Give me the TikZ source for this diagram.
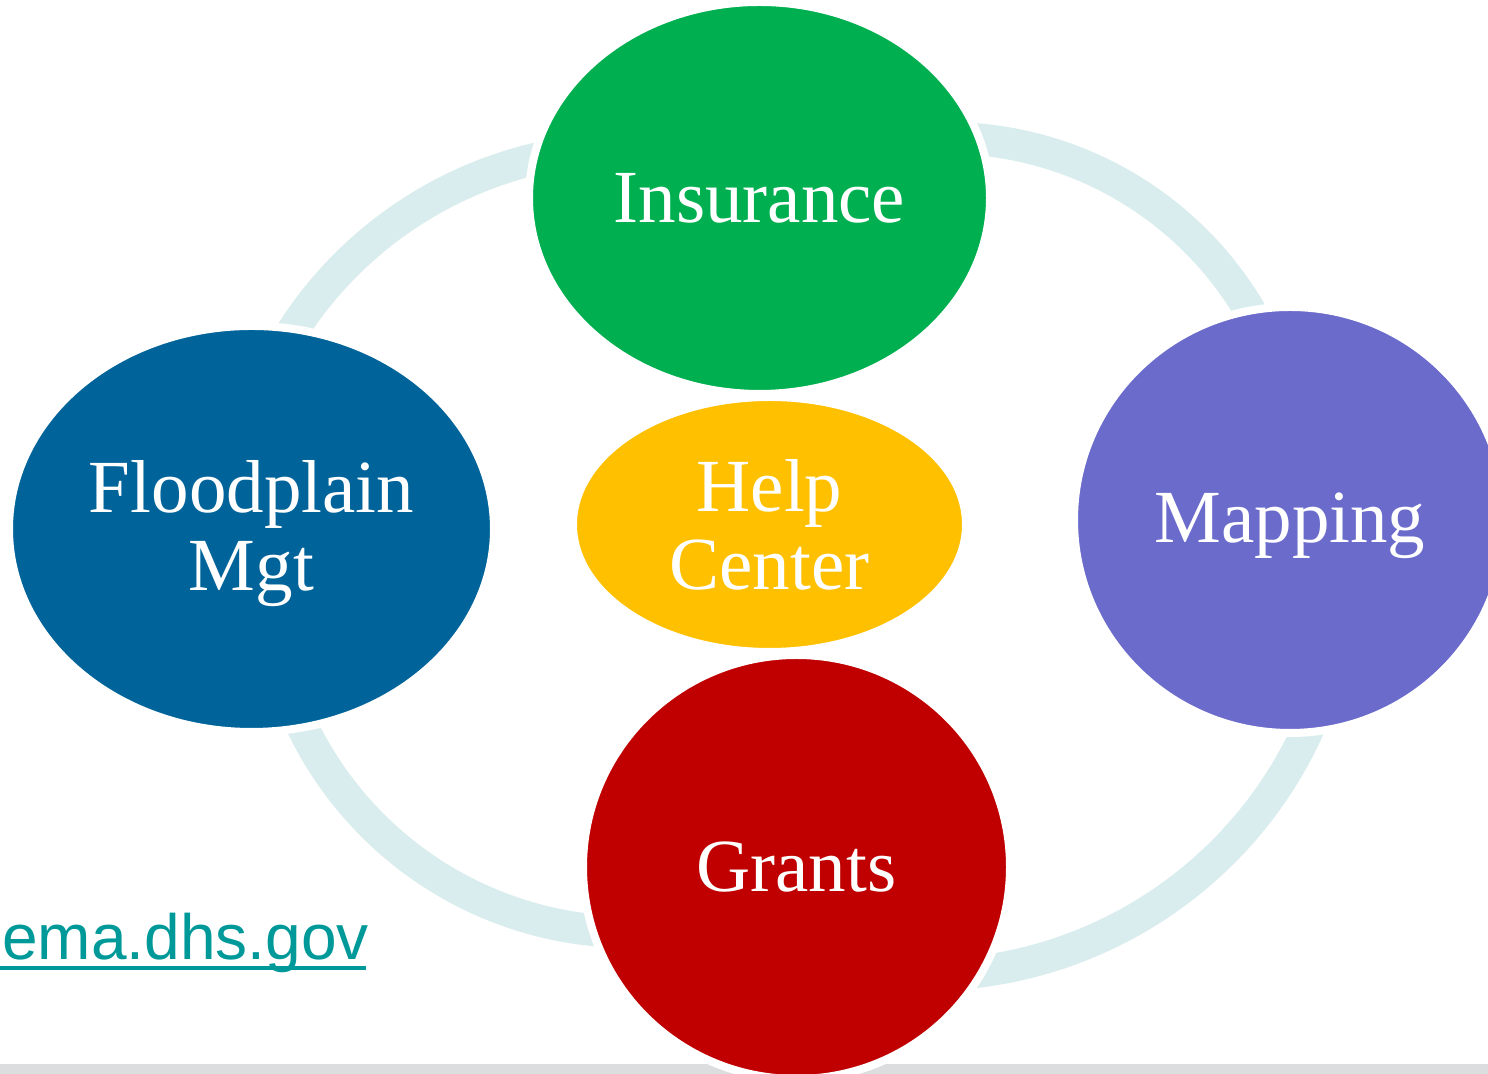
\documentclass[tikz,border=0pt]{standalone}
\usepackage{fontspec}
\setmainfont{Liberation Serif}
\newfontfamily\linkfont{Liberation Sans}
\usetikzlibrary{shapes.geometric}
\definecolor{bandc}{HTML}{DAEDEE}
\definecolor{insc}{HTML}{00B050}
\definecolor{floodc}{HTML}{00649A}
\definecolor{helpc}{HTML}{FFC000}
\definecolor{mapc}{HTML}{6B6BCC}
\definecolor{grantc}{HTML}{C00000}
\definecolor{linkc}{HTML}{009999}
\definecolor{barc}{HTML}{DCDDDF}
\tikzset{
  band/.style={draw=bandc, line width=16pt},
  blob/.style={ellipse, draw=white, line width=4pt, inner sep=0pt, outer sep=0pt,
    text=white, align=center, font=\fontsize{37.5pt}{39pt}\selectfont},
  linktext/.style={text=linkc, inner sep=0pt, font=\linkfont\fontsize{32pt}{36pt}\selectfont},
}
\begin{document}
\begin{tikzpicture}[x=0.5pt, y=0.5pt]
\clip (0,0) rectangle (1488,1074);
\fill[white] (0,0) rectangle (1488,1074);
% bottom bar
\fill[barc] (0,0) rectangle (1488,10);
% arc centres
\coordinate (c1) at (628,527);
\coordinate (c2) at (947,584);
\coordinate (c3) at (926,519);
\coordinate (c4) at (630,506);
% ring arcs
\draw[band] (c1) ++(152:199.5pt) arc[start angle=152, end angle=98, radius=199.5pt];
\draw[band] (c2) ++(90:176pt) arc[start angle=90, end angle=25, radius=176pt];
\draw[band] (c3) ++(-20:210pt) arc[start angle=-20, end angle=-87, radius=210pt];
\draw[band] (c4) ++(269:182pt) arc[start angle=269, end angle=201, radius=182pt];
% circles
\node[blob, fill=insc, minimum width=230.5pt, minimum height=196pt] (ins) at (759.5,876) {Insurance};
\node[blob, fill=floodc, minimum width=242.5pt, minimum height=203pt] (flood) at (251.5,545) {\raisebox{-2.5pt}[\height][\depth]{\parbox{165pt}{\centering Floodplain\\Mgt}}};
\node[blob, fill=helpc, minimum width=196.5pt, minimum height=127.5pt] (help) at (769.5,549.5) {\parbox{110pt}{\centering Help\\Center}};
\node[blob, fill=mapc, minimum width=216pt, minimum height=213pt, text depth=0pt] (map) at (1290,554) {\raisebox{2pt}{Mapping}};
\node[blob, fill=grantc, minimum width=213.5pt, minimum height=212pt] (grant) at (796.5,207) {Grants};
% link
\node[linktext, anchor=base west] (lnk) at (2,114) {ema.dhs.gov};
\coordinate (ul1) at (0,106);
\coordinate (ul2) at (366,106);
\draw[linkc, line width=2pt] (ul1) -- (ul2);
\end{tikzpicture}
\end{document}
